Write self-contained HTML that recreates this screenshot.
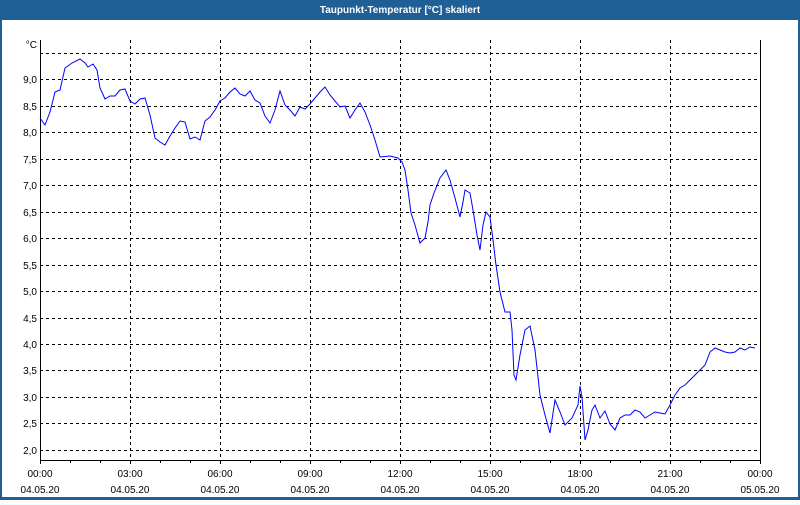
<!DOCTYPE html>
<html><head><meta charset="utf-8"><style>
html,body{margin:0;padding:0;background:#fff;}
body{width:800px;height:500px;overflow:hidden;font-family:"Liberation Sans",sans-serif;}
</style></head><body>
<svg width="800" height="500" xmlns="http://www.w3.org/2000/svg" font-family="Liberation Sans, sans-serif" font-size="10">
<rect x="0" y="0" width="800" height="500" fill="#1e5f96"/>
<rect x="2" y="20" width="796" height="477" fill="#fff"/>
<text x="400" y="13" fill="#fff" font-weight="bold" font-size="10" text-anchor="middle">Taupunkt-Temperatur [°C] skaliert</text>
<g stroke="#000" stroke-width="1" stroke-dasharray="3,3" shape-rendering="crispEdges">
<line x1="40" x2="760" y1="53.5" y2="53.5"/><line x1="40" x2="760" y1="79.5" y2="79.5"/><line x1="40" x2="760" y1="106.5" y2="106.5"/><line x1="40" x2="760" y1="132.5" y2="132.5"/><line x1="40" x2="760" y1="159.5" y2="159.5"/><line x1="40" x2="760" y1="185.5" y2="185.5"/><line x1="40" x2="760" y1="212.5" y2="212.5"/><line x1="40" x2="760" y1="238.5" y2="238.5"/><line x1="40" x2="760" y1="265.5" y2="265.5"/><line x1="40" x2="760" y1="291.5" y2="291.5"/><line x1="40" x2="760" y1="318.5" y2="318.5"/><line x1="40" x2="760" y1="344.5" y2="344.5"/><line x1="40" x2="760" y1="370.5" y2="370.5"/><line x1="40" x2="760" y1="397.5" y2="397.5"/><line x1="40" x2="760" y1="423.5" y2="423.5"/><line x1="40" x2="760" y1="450.5" y2="450.5"/>
<line y1="40" y2="460" x1="130.5" x2="130.5"/><line y1="40" y2="460" x1="220.5" x2="220.5"/><line y1="40" y2="460" x1="310.5" x2="310.5"/><line y1="40" y2="460" x1="400.5" x2="400.5"/><line y1="40" y2="460" x1="490.5" x2="490.5"/><line y1="40" y2="460" x1="580.5" x2="580.5"/><line y1="40" y2="460" x1="670.5" x2="670.5"/>
</g>
<g stroke="#000" stroke-width="1" fill="none" shape-rendering="crispEdges">
<path d="M40.5 40 V460.5 H760.5 V40"/>
<path d="M70.5 460v3M100.5 460v3M130.5 460v4M160.5 460v3M190.5 460v3M220.5 460v4M250.5 460v3M280.5 460v3M310.5 460v4M340.5 460v3M370.5 460v3M400.5 460v4M430.5 460v3M460.5 460v3M490.5 460v4M520.5 460v3M550.5 460v3M580.5 460v4M610.5 460v3M640.5 460v3M670.5 460v4M700.5 460v3M730.5 460v3M40.5 460v4M760.5 460v4"/>
</g>
<g fill="#000" text-anchor="end">
<text x="37" y="48">°C</text>
<text x="37" y="83">9,0</text><text x="37" y="110">8,5</text><text x="37" y="136">8,0</text><text x="37" y="163">7,5</text><text x="37" y="189">7,0</text><text x="37" y="216">6,5</text><text x="37" y="242">6,0</text><text x="37" y="269">5,5</text><text x="37" y="295">5,0</text><text x="37" y="322">4,5</text><text x="37" y="348">4,0</text><text x="37" y="374">3,5</text><text x="37" y="401">3,0</text><text x="37" y="427">2,5</text><text x="37" y="454">2,0</text>
</g>
<g fill="#000" text-anchor="middle">
<text x="40" y="477">00:00</text><text x="130" y="477">03:00</text><text x="220" y="477">06:00</text><text x="310" y="477">09:00</text><text x="400" y="477">12:00</text><text x="490" y="477">15:00</text><text x="580" y="477">18:00</text><text x="670" y="477">21:00</text><text x="760" y="477">00:00</text>
<text x="40" y="493">04.05.20</text><text x="130" y="493">04.05.20</text><text x="220" y="493">04.05.20</text><text x="310" y="493">04.05.20</text><text x="400" y="493">04.05.20</text><text x="490" y="493">04.05.20</text><text x="580" y="493">04.05.20</text><text x="670" y="493">04.05.20</text><text x="760" y="493">05.05.20</text>
</g>
<polyline fill="none" stroke="#0000ff" stroke-width="1" points="40,118 45,125 50,112 55,92 60,90 65,68 72,63 80,59 85,63 88,67 93,64 97,70 100,88 105,99 110,96 115,96 120,90 125,89 130,101 135,104 140,99 145,98 150,115 155,138 160,142 165,145 170,136 175,128 180,121 185,122 190,139 195,137 200,140 205,121 210,117 215,110 220,101 225,98 230,92 235,88 240,94 245,96 250,91 255,100 260,103 265,116 270,123 275,110 280,91 285,105 290,110 295,116 300,107 305,109 310,104 315,98 320,92 325,87 330,95 335,101 340,107 345,106 350,118 355,110 360,103 365,112 370,125 375,140 380,157 390,156 398,158 402,162 405,170 408,190 411,213 415,225 420,243 425,238 428,222 430,205 434,193 440,178 446,170 450,180 455,198 460,217 463,202 465,190 470,193 473,210 477,235 480,250 483,225 486,212 490,217 493,240 496,265 500,292 505,312 510,312 512,330 514,375 516,380 520,355 525,330 530,326 535,350 540,395 545,415 550,433 555,400 560,412 565,425 572,418 578,405 580,386 582,397 585,440 588,430 592,410 595,405 600,418 605,411 610,424 615,430 620,418 625,415 630,415 635,410 640,412 645,418 650,415 655,412 660,413 665,414 670,405 675,395 680,388 685,385 690,380 695,375 700,370 705,365 710,352 715,348 720,350 725,352 730,353 735,352 740,348 745,350 750,347 755,348"/>
</svg>
</body></html>
